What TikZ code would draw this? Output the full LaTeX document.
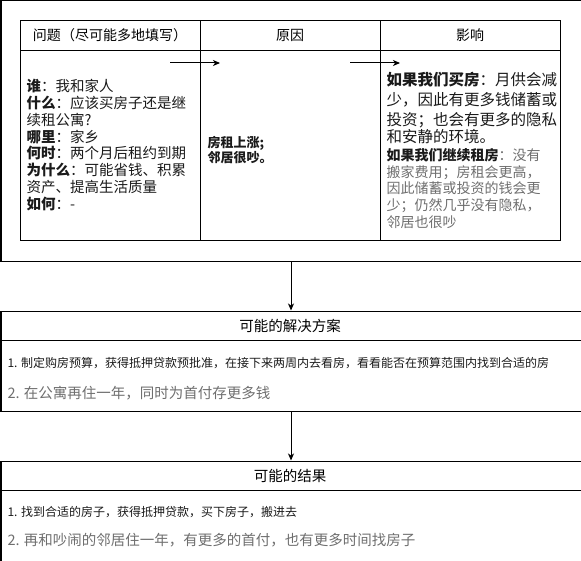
\documentclass[tikz,border=0pt]{standalone}
\usepackage{fontspec}
\setmainfont{Noto Sans CJK SC}
\usepackage{tikz}
\usetikzlibrary{arrows.meta,calc}
\definecolor{textgray}{HTML}{6E6E6E}
\definecolor{textdark}{HTML}{1A1A1A}

\begin{document}
\begin{tikzpicture}[x=1bp,y=-1bp,line width=1bp,>={Stealth[length=7bp,width=6bp,inset=2bp]}]
    \pgfmathsetmacro{\W}{580};
    \pgfmathsetmacro{\hd}{30};
    \pgfmathsetmacro{\colA}{200};
    \pgfmathsetmacro{\colB}{380};
    \useasboundingbox (0,0) rectangle (581,561);

    \node[draw,anchor=north west,minimum width=\W bp,minimum height=260bp,inner sep=0] (frame) at (0.5,0.5) {};
    \draw (20.5,20.5) rectangle (560.5,240.5);
    \draw (20.5,20.5+\hd) -- (560.5,20.5+\hd);
    \draw (\colA+0.5,20.5) -- (\colA+0.5,240.5);
    \draw (\colB+0.5,20.5) -- (\colB+0.5,240.5);

    \node[font=\fontsize{14bp}{17bp}\selectfont] (qhead) at (110,35) {问题（尽可能多地填写）};
    \node[font=\fontsize{14bp}{17bp}\selectfont] (chead) at (290,35) {原因};
    \node[font=\fontsize{14bp}{17bp}\selectfont] (ehead) at (470,35) {影响};

    \node[anchor=west,align=left,inner sep=0,text=textdark,font=\fontsize{14.5bp}{16.8bp}\selectfont] (qtext) at (26,145) {\textbf{谁}：我和家人\\
        \textbf{什么}：应该买房子还是继\\
        续租公寓?\\
        \textbf{哪里}：家乡\\
        \textbf{何时}：两个月后租约到期\\
        \textbf{为什么}：可能省钱、积累\\
        资产、提高生活质量\\
        \textbf{如何}：-};
    \node[anchor=west,align=left,inner sep=0,text=textdark,font=\fontsize{13bp}{12.5bp}\selectfont\bfseries] (ctext) at (207,150) {房租上涨;\\邻居很吵。};
    \node[anchor=west,align=left,inner sep=0,text=textdark,font=\fontsize{15.5bp}{20bp}\selectfont] (ebuy) at (386,108.5) {\textbf{如果我们买房}：月供会减\\
        少，因此有更多钱储蓄或\\
        投资；也会有更多的隐私\\[-3bp]
        和安静的环境。};
    \node[anchor=west,align=left,inner sep=0,text=textgray,font=\fontsize{14bp}{16.7bp}\selectfont] (erent) at (386,188.3) {\textbf{\color{textdark}如果我们继续租房}：没有\\
        搬家费用；房租会更高，\\
        因此储蓄或投资的钱会更\\
        少；仍然几乎没有隐私，\\
        邻居也很吵};

    \coordinate (qa) at (170,63);
    \coordinate (qb) at (220,63);
    \coordinate (ca) at (350,63);
    \coordinate (cb) at (400,63);
    \draw[->] (qa) -- (qb);
    \draw[->] (ca) -- (cb);

    \node[draw,anchor=north west,minimum width=\W bp,minimum height=100bp,inner sep=0] (plan) at (0.5,310.5) {};
    \draw ($(plan.north west)+(0,\hd)$) -- ($(plan.north east)+(0,\hd)$);
    \node[font=\fontsize{14.5bp}{17bp}\selectfont] (phead) at (290,325.5) {可能的解决方案};
    \node[anchor=west,inner sep=0,text=textdark,font=\fontsize{12bp}{14bp}\selectfont] (pone) at (7,363) {1. 制定购房预算，获得抵押贷款预批准，在接下来两周内去看房，看看能否在预算范围内找到合适的房};
    \node[anchor=west,inner sep=0,text=textgray,font=\fontsize{14.5bp}{17bp}\selectfont] (ptwo) at (7,393) {2. 在公寓再住一年，同时为首付存更多钱};

    \node[draw,anchor=north west,minimum width=\W bp,minimum height=100bp,inner sep=0] (result) at (0.5,460.5) {};
    \draw ($(result.north west)+(0,\hd)$) -- ($(result.north east)+(0,\hd)$);
    \node[font=\fontsize{14.5bp}{17bp}\selectfont] (rhead) at (290,475.5) {可能的结果};
    \node[anchor=west,inner sep=0,text=textdark,font=\fontsize{12bp}{14bp}\selectfont] (rone) at (7,512) {1. 找到合适的房子，获得抵押贷款，买下房子，搬进去};
    \node[anchor=west,inner sep=0,text=textgray,font=\fontsize{14.5bp}{17bp}\selectfont] (rtwo) at (7,540) {2. 再和吵闹的邻居住一年，有更多的首付，也有更多时间找房子};

    \draw[->] (frame.south) -- (plan.north);
    \draw[->] (plan.south) -- (result.north);
\end{tikzpicture}
\end{document}
